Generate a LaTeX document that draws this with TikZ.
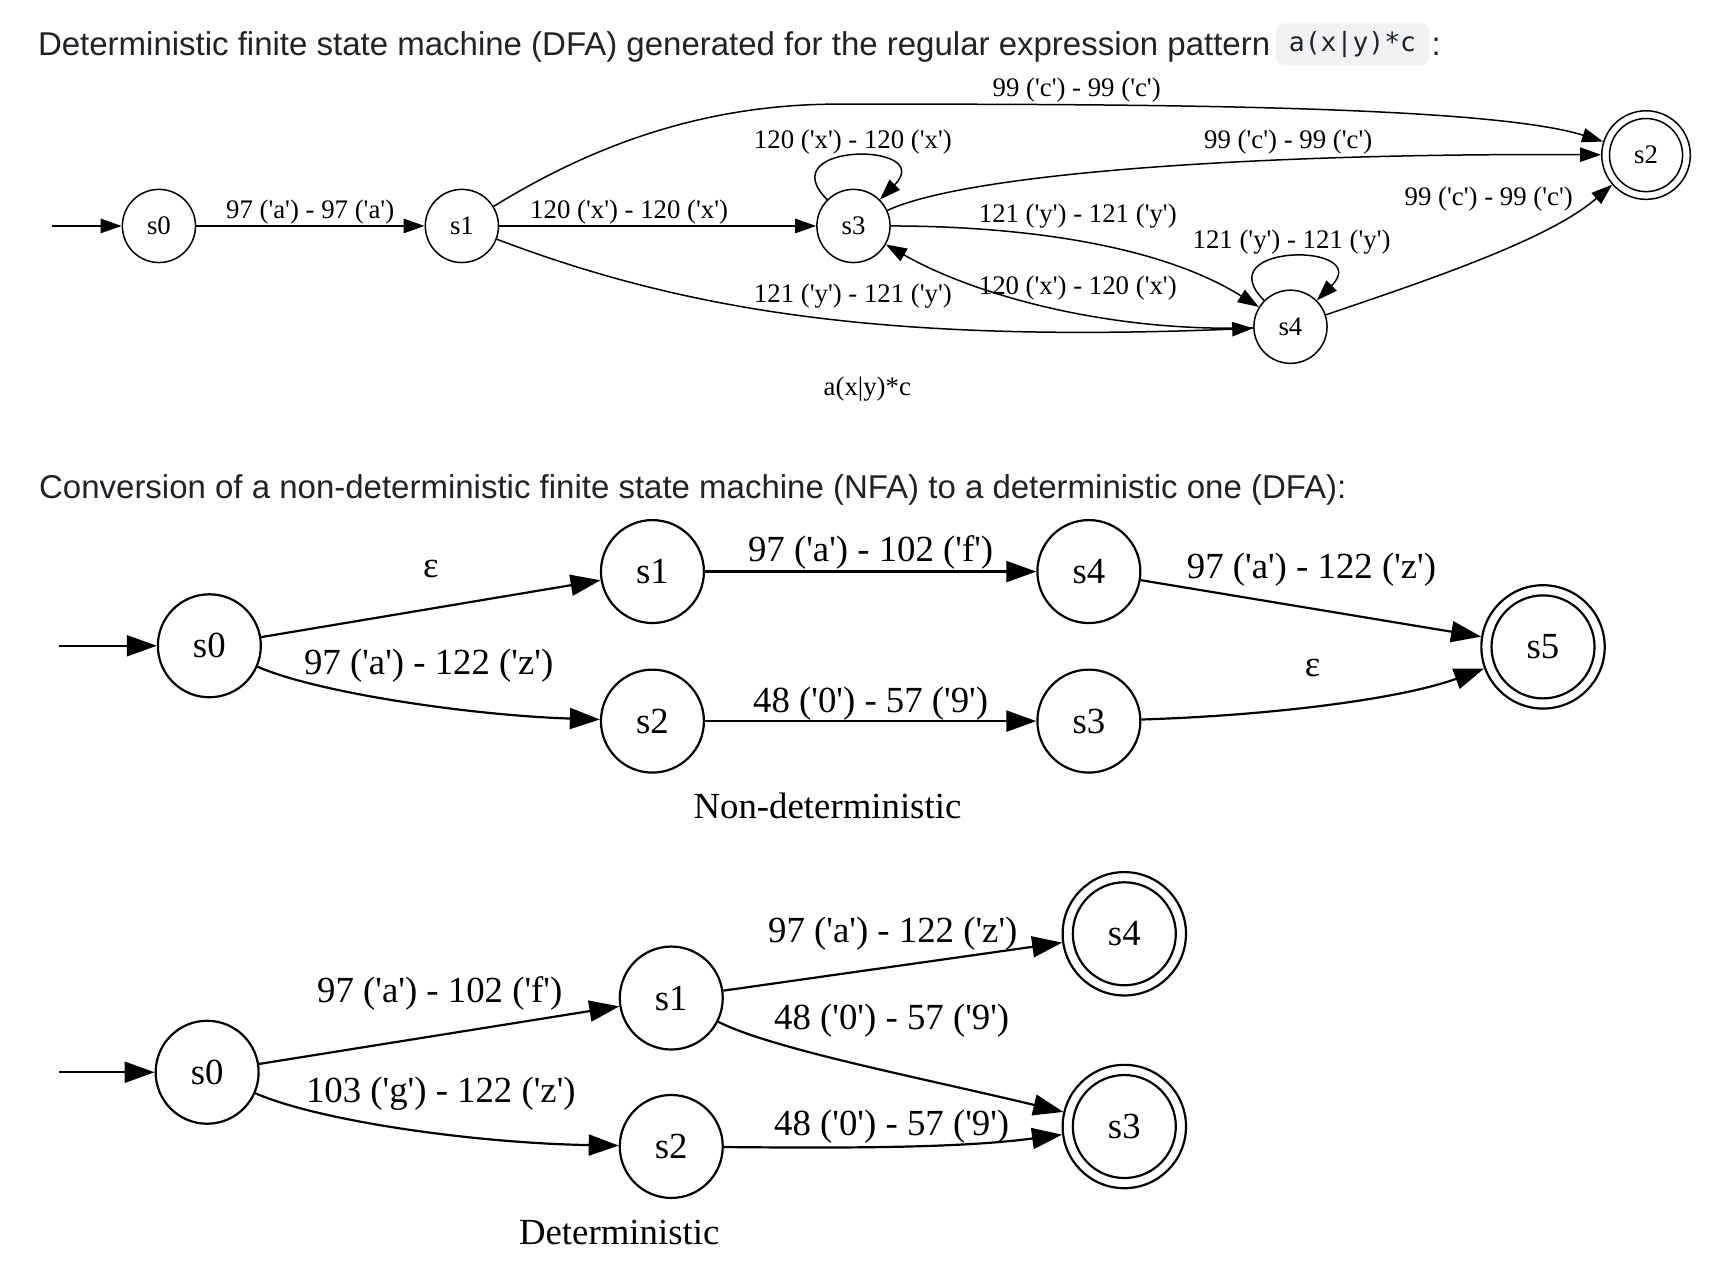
\documentclass[tikz,border=0pt]{standalone}
\usepackage{fontspec}
\newfontfamily\gv{Liberation Serif}
\newfontfamily\ghsans{Liberation Sans}
\newfontfamily\ghmono{DejaVu Sans Mono}
\usetikzlibrary{arrows.meta}
\definecolor{ghtext}{RGB}{31,35,40}
\definecolor{ghcode}{RGB}{239,241,243}

\tikzset{
  smalltext/.style={font=\gv\fontsize{13.4}{15}\selectfont},
  bigtext/.style={font=\gv\fontsize{18.4}{21}\selectfont},
  st/.style={circle,draw,inner sep=0pt,line width=0.75pt,minimum size=36.6pt,smalltext},
  bst/.style={circle,draw,inner sep=0pt,line width=1.1pt,minimum size=51.5pt,bigtext},
  lbl/.style={inner sep=0pt},
  heading/.style={anchor=west,inner sep=0pt,text=ghtext,font=\ghsans\fontsize{16.5}{20}\selectfont}
}

\begin{document}
\begin{tikzpicture}[x=0.554pt,y=0.554pt]
\useasboundingbox (0,0) rectangle (1560,-1152);

\node[heading] (t1) at (34,-42) {Deterministic finite state machine (DFA) generated for the regular expression pattern};
\node[fill=ghcode,rounded corners=4pt,inner xsep=6.5pt,inner ysep=0pt,minimum height=21pt,text=ghtext,font=\ghmono\fontsize{13.2}{15}\selectfont] (code) at (1221,-40) {a(x|y)*c};
\node[heading] (colon) at (1292,-42) {:};

\coordinate (A) at (47,-204);
\node[st] (s0) at (143.5,-204) {s0};
\node[st] (s1) at (417,-204) {s1};
\node[st] (s3) at (770.5,-204) {s3};
\node[st] (s4) at (1165,-295) {s4};
\node[st,minimum size=44.3pt] (s2) at (1486,-140) {s2};
\draw[line width=0.75pt] (s2.center) circle (33);

\begin{scope}[->,>={Triangle[length=10.5pt,width=7.2pt]},line width=0.75pt]
    \draw (A) -- (s0);
    \draw (s0) -- (s1);
    \draw (s1) -- (s3);
    \draw (s1) .. controls (537,-130) and (637,-94) .. (757,-94) .. controls (1000,-94) and (1340,-94) .. (s2);
    \draw (s3.135) .. controls +(135:74) and +(45:74) .. (s3.45);
    \draw (s3) .. controls (877,-155) and (1150,-138) .. (s2);
    \draw (s3) .. controls (897,-204) and (1037,-215) .. (s4);
    \draw (s4) .. controls (997,-300) and (877,-265) .. (s3);
    \draw (s1) .. controls (617,-280) and (797,-310) .. (s4);
    \draw (s4.135) .. controls +(135:74) and +(45:74) .. (s4.45);
    \draw (s4) .. controls (1298,-250) and (1400,-215) .. (s2);
\end{scope}

\node[lbl,smalltext] (l1) at (280,-191) {97 ('a') - 97 ('a')};
\node[lbl,smalltext] (l2) at (568,-191) {120 ('x') - 120 ('x')};
\node[lbl,smalltext] (l3) at (972,-81) {99 ('c') - 99 ('c')};
\node[lbl,smalltext] (l4) at (770,-128) {120 ('x') - 120 ('x')};
\node[lbl,smalltext] (l5) at (1163,-128) {99 ('c') - 99 ('c')};
\node[lbl,smalltext] (l6) at (973,-195) {121 ('y') - 121 ('y')};
\node[lbl,smalltext] (l7) at (973,-260) {120 ('x') - 120 ('x')};
\node[lbl,smalltext] (l8) at (770,-267) {121 ('y') - 121 ('y')};
\node[lbl,smalltext] (l9) at (1166,-219) {121 ('y') - 121 ('y')};
\node[lbl,smalltext] (l10) at (1344,-180) {99 ('c') - 99 ('c')};
\node[lbl,smalltext] (cap1) at (783,-351) {a(x|y)*c};

\node[heading] (t2) at (35,-442) {Conversion of a non-deterministic finite state machine (NFA) to a deterministic one (DFA):};

\coordinate (B) at (53,-583);
\node[bst] (n0) at (189,-583) {s0};
\node[bst] (n1) at (589,-516) {s1};
\node[bst] (n2) at (589,-651) {s2};
\node[bst] (n4) at (983,-516) {s4};
\node[bst] (n3) at (983,-651) {s3};
\node[bst,minimum size=61.7pt] (n5) at (1393,-584) {s5};
\draw[line width=1.1pt] (n5.center) circle (46.5);

\begin{scope}[->,>={Triangle[length=15pt,width=10.5pt]},line width=1.1pt]
    \draw (B) -- (n0);
    \draw (n0) -- (n1);
    \draw (n0) .. controls (288,-626) and (428,-646) .. (n2);
    \draw (n1) -- (n4);
    \draw (n2) -- (n3);
    \draw (n4) -- (n5);
    \draw (n3) .. controls (1147,-646) and (1265,-631) .. (n5);
\end{scope}

\node[lbl,bigtext] (m1) at (389,-514) {ε};
\node[lbl,bigtext] (m2) at (387,-601) {97 ('a') - 122 ('z')};
\node[lbl,bigtext] (m3) at (786,-499) {97 ('a') - 102 ('f')};
\node[lbl,bigtext] (m4) at (786,-635) {48 ('0') - 57 ('9')};
\node[lbl,bigtext] (m5) at (1184,-514) {97 ('a') - 122 ('z')};
\node[lbl,bigtext] (m6) at (1185,-603) {ε};
\node[lbl,bigtext] (cap2) at (747,-728) {Non-deterministic};

\coordinate (C) at (53,-968);
\node[bst] (d0) at (187,-968) {s0};
\node[bst] (d1) at (606,-901) {s1};
\node[bst] (d2) at (606,-1035) {s2};
\node[bst,minimum size=61.7pt] (d4) at (1015,-843) {s4};
\node[bst,minimum size=61.7pt] (d3) at (1015,-1017) {s3};
\draw[line width=1.1pt] (d4.center) circle (46.5);
\draw[line width=1.1pt] (d3.center) circle (46.5);

\begin{scope}[->,>={Triangle[length=15pt,width=10.5pt]},line width=1.1pt]
    \draw (C) -- (d0);
    \draw (d0) -- (d1);
    \draw (d0) .. controls (288,-1012) and (428,-1032) .. (d2);
    \draw (d1) -- (d4);
    \draw (d1) .. controls (697,-947) and (827,-972) .. (d3);
    \draw (d2) .. controls (797,-1037) and (877,-1035) .. (d3);
\end{scope}

\node[lbl,bigtext] (k1) at (397,-897) {97 ('a') - 102 ('f')};
\node[lbl,bigtext] (k2) at (398,-987) {103 ('g') - 122 ('z')};
\node[lbl,bigtext] (k3) at (806,-843) {97 ('a') - 122 ('z')};
\node[lbl,bigtext] (k4) at (805,-921) {48 ('0') - 57 ('9')};
\node[lbl,bigtext] (k5) at (805,-1017) {48 ('0') - 57 ('9')};
\node[lbl,bigtext] (cap3) at (559,-1113) {Deterministic};
\end{tikzpicture}
\end{document}
